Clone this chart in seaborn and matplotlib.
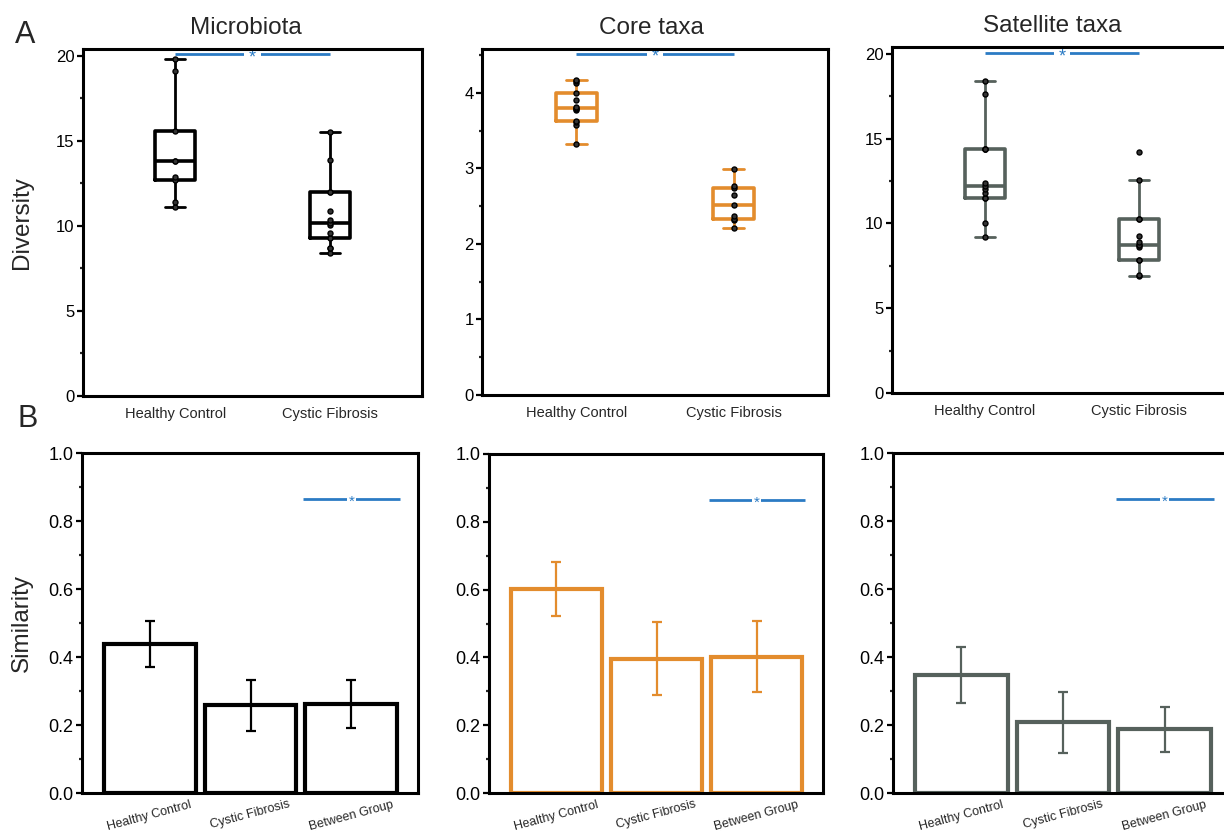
import matplotlib
matplotlib.use("Agg")
import matplotlib.pyplot as plt
import numpy as np
import pandas as pd
import seaborn as sns
from matplotlib.ticker import AutoMinorLocator

# --- data ---
groups = ["Healthy Control", "Cystic Fibrosis"]
sim_groups = ["Healthy Control", "Cystic Fibrosis", "Between Group"]
titles = ["Microbiota", "Core taxa", "Satellite taxa"]

# diversity per sample (panel A)
micro_hc = [11.1, 11.4, 12.7, 12.9, 13.8, 13.8, 15.6, 19.1, 19.8]
micro_cf = [8.4, 8.7, 8.7, 9.3, 9.6, 10.06, 10.2, 10.35, 10.9, 12.0, 12.0, 13.9, 15.5]
core_hc = [3.32, 3.58, 3.61, 3.63, 3.77, 3.79, 3.80, 3.81, 3.90, 4.0, 4.13, 4.16, 4.17]
core_cf = [2.21, 2.32, 2.33, 2.37, 2.51, 2.65, 2.74, 2.77, 2.99]
sat_hc = [9.2, 10.0, 11.5, 11.5, 11.8, 12.0, 12.2, 12.4, 14.4, 14.4, 14.4, 17.6, 18.4]
sat_cf = [6.88, 6.98, 7.84, 7.86, 8.59, 8.74, 8.74, 8.90, 9.23, 10.25, 10.25, 12.58, 14.18]

# similarity (panel B): mean, lower and upper error bar ends
micro_sim = [0.439, 0.258, 0.262]
micro_sim_lo = [0.371, 0.183, 0.191]
micro_sim_hi = [0.505, 0.333, 0.333]
core_sim = [0.603, 0.396, 0.401]
core_sim_lo = [0.523, 0.288, 0.297]
core_sim_hi = [0.680, 0.503, 0.506]
sat_sim = [0.348, 0.208, 0.188]
sat_sim_lo = [0.265, 0.119, 0.122]
sat_sim_hi = [0.428, 0.296, 0.252]

colors = ["black", "#e38c2d", "#56615c"]
sig_color = "#2b7bc4"

sns.set_style("white")
plt.rcParams["font.family"] = ["Liberation Sans", "DejaVu Sans"]

fig = plt.figure(figsize=(12.24, 8.31), dpi=100)

W, H = 1224, 831
def px_axes(left, top, right, bottom):
    return fig.add_axes([left / W, 1 - bottom / H, (right - left) / W, (bottom - top) / H])

top_axes = [px_axes(83, 49, 422, 396), px_axes(482, 49, 828, 395), px_axes(892, 47, 1232, 393)]
bot_axes = [px_axes(82, 453, 418, 793), px_axes(489, 454, 823, 793), px_axes(893, 453, 1232, 793)]

div_data = [(micro_hc, micro_cf), (core_hc, core_cf), (sat_hc, sat_cf)]
div_ylims = [20.4, 4.58, 20.4]
div_ticks = [np.arange(0, 21, 5), np.arange(0, 5, 1), np.arange(0, 21, 5)]
div_sig_y = [20.1, 4.52, 20.03]
title_x = [0.48, 0.49, 0.47]

sim_data = [(micro_sim, micro_sim_lo, micro_sim_hi),
            (core_sim, core_sim_lo, core_sim_hi),
            (sat_sim, sat_sim_lo, sat_sim_hi)]


def style_axis(ax, fs):
    for s in ax.spines.values():
        s.set_linewidth(2.2)
        s.set_color("black")
    ax.yaxis.set_minor_locator(AutoMinorLocator(2))
    ax.tick_params(axis="y", which="major", direction="out", length=4, width=1.6,
                   labelsize=fs, pad=2, left=True, colors="black")
    ax.tick_params(axis="y", which="minor", direction="out", length=2, width=1.6, left=True)
    ax.tick_params(axis="x", length=0)


def sig_mark(ax, x0, x1, y, fs, pad):
    # line under the star's white box, spines stay on top
    ax.plot([x0, x1], [y, y], color=sig_color, lw=2, solid_capstyle="butt", zorder=1.5)
    ax.annotate("*", xy=((x0 + x1) / 2, y), xytext=(0, -0.45 * fs), textcoords="offset points",
                ha="center", va="baseline", color=sig_color, fontsize=fs, zorder=2,
                bbox=dict(boxstyle=f"square,pad={pad}", fc="white", ec="none"))


# --- A: diversity boxplots ---
for i, ax in enumerate(top_axes):
    hc, cf = div_data[i]
    df = pd.DataFrame({"group": [groups[0]] * len(hc) + [groups[1]] * len(cf),
                       "value": hc + cf})
    c = colors[i]
    sns.boxplot(data=df, x="group", y="value", order=groups, ax=ax, width=0.26,
                fill=False, color=c, showfliers=False, linewidth=2,
                boxprops={"linewidth": 2.6}, medianprops={"linewidth": 2.6},
                whiskerprops={"linewidth": 2}, capprops={"linewidth": 2})
    sns.stripplot(data=df, x="group", y="value", order=groups, ax=ax, jitter=False,
                  color="#333333", edgecolor="black", linewidth=1, size=3.6, zorder=4)
    ax.set_xlim(-0.6, 1.6)
    ax.set_ylim(0, div_ylims[i])
    ax.set_yticks(div_ticks[i])
    ax.set_xlabel("")
    ax.set_ylabel("")
    style_axis(ax, 12)
    ax.tick_params(axis="x", labelsize=10.5, pad=8)
    ax.set_title(titles[i], fontsize=17.5, pad=11, x=title_x[i])
    sig_mark(ax, 0, 1, div_sig_y[i], 13, 0.25)

top_axes[0].set_ylabel("Diversity", fontsize=17.5)
top_axes[0].yaxis.set_label_coords(-0.147, 0.5)

# --- B: similarity bars ---
for i, ax in enumerate(bot_axes):
    mean, lo, hi = sim_data[i]
    c = colors[i]
    sns.barplot(x=sim_groups, y=mean, ax=ax, fill=False, color=c, width=0.91,
                linewidth=3, errorbar=None)
    pos = np.arange(len(sim_groups))
    ax.errorbar(pos, mean, yerr=[np.subtract(mean, lo), np.subtract(hi, mean)],
                fmt="none", ecolor=c, elinewidth=1.6, capsize=3.5, capthick=1.6, zorder=4)
    ax.set_xlim(-0.67, 2.66)
    ax.set_ylim(0, 1.0)
    ax.set_yticks(np.arange(0, 1.01, 0.2))
    ax.yaxis.set_major_formatter(matplotlib.ticker.FormatStrFormatter("%.1f"))
    style_axis(ax, 13)
    ax.tick_params(axis="x", labelsize=9, pad=4)
    for lab in ax.get_xticklabels():
        lab.set_rotation(15)
    sig_mark(ax, 1.52, 2.48, 0.865, 11, 0.1)

bot_axes[0].set_ylabel("Similarity", fontsize=17.5)
bot_axes[0].yaxis.set_label_coords(-0.146, 0.5)

fig.text(15 / W, 1 - 43 / H, "A", fontsize=22, va="baseline", ha="left")
fig.text(17 / W, 1 - 427 / H, "B", fontsize=22, va="baseline", ha="left")

fig.savefig("out.png", dpi=100)
